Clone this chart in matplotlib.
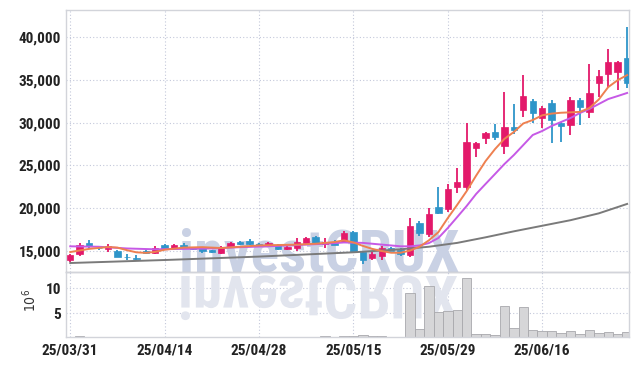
import matplotlib
matplotlib.use("Agg")
import matplotlib.pyplot as plt
import numpy as np
from matplotlib.textpath import TextPath
from matplotlib.patches import PathPatch
from matplotlib.transforms import Affine2D, IdentityTransform
from matplotlib.font_manager import FontProperties

plt.rcParams["font.family"] = ["Roboto Condensed", "Liberation Sans Narrow", "DejaVu Sans"]
plt.rcParams["font.stretch"] = "condensed"

# daily candles, 2025/03/31 .. 2025/06/27 (trading days)
opens = [13950, 14650, 15900, 15400, 15230, 15000, 14350, 14200, 15050, 14770,
         15700, 15350, 15700, 15350, 15350, 15100, 14770, 15470, 16050, 16170,
         15820, 15700, 15700, 15230, 15350, 15930, 16640, 15820, 15930, 16100,
         17220, 14880, 14180, 14420, 15350, 15100, 14530, 18270, 16990, 20140,
         19900, 22470, 22470, 27030, 28200, 28900, 27260, 29490, 31470, 32520,
         30530, 32290, 29950, 29720, 32640, 31240, 34620, 35670, 35900, 37540]
highs = [14650, 15930, 16250, 15600, 15800, 15100, 14650, 14500, 15150, 15550,
         15800, 15800, 15930, 15450, 15400, 15150, 15550, 16050, 16150, 16400,
         15900, 16000, 15800, 15600, 16520, 16640, 16700, 16500, 16300, 17300,
         17300, 14950, 14900, 15550, 15500, 15350, 18850, 18500, 20020, 22470,
         22830, 24690, 29950, 27750, 28900, 29830, 33580, 32170, 35560, 32800,
         31900, 32640, 30100, 32990, 32900, 36840, 36140, 38600, 37200, 41160]
lows = [13700, 14420, 15250, 15100, 14900, 14300, 13950, 13850, 14700, 14650,
        15100, 15300, 15230, 15100, 14770, 14770, 14700, 15400, 15700, 15750,
        15450, 15600, 15100, 15150, 15000, 15850, 15850, 15350, 15650, 16000,
        14800, 13480, 13900, 13950, 14950, 14420, 14300, 16750, 16640, 19320,
        19550, 21770, 22120, 25980, 27500, 27960, 26330, 28670, 30650, 29950,
        29370, 27610, 27730, 28550, 29720, 30530, 32990, 34150, 33810, 34040]
closes = [14530, 15700, 15600, 15300, 15580, 14300, 14250, 14100, 14800, 15350,
          15230, 15700, 15350, 15230, 15000, 14900, 15470, 15930, 15820, 15820,
          15580, 15900, 15230, 15450, 16050, 16520, 15930, 16050, 15700, 17100,
          14880, 13950, 14650, 15350, 15000, 14650, 17920, 17100, 19320, 19440,
          22240, 23050, 27730, 27620, 28780, 28320, 29490, 29130, 33100, 31120,
          31700, 30300, 29600, 32640, 31820, 33460, 35440, 37080, 37080, 34620]
# volume, millions of shares
volumes = [0.2, 0.35, 0.2, 0.2, 0.2, 0.2, 0.2, 0.2, 0.2, 0.2,
           0.2, 0.2, 0.2, 0.2, 0.2, 0.2, 0.2, 0.2, 0.2, 0.2,
           0.2, 0.2, 0.2, 0.2, 0.2, 0.2, 0.2, 0.45, 0.2, 0.45,
           0.45, 0.6, 0.45, 0.45, 0.2, 0.2, 9.0, 1.8, 10.5, 5.3,
           5.4, 5.7, 12.1, 0.9, 0.9, 0.6, 6.5, 2.0, 6.2, 1.7,
           1.4, 1.4, 1.1, 1.4, 0.9, 1.7, 1.1, 1.3, 0.8, 1.3]

# moving averages (candle index, price)
ma_short_idx = [0, 2, 4, 5, 6, 7, 8, 9, 10, 12, 14, 16, 18, 20, 22, 24, 26, 27, 28, 29,
                30, 31, 32, 33, 34, 35, 36, 37, 38, 39, 40, 41, 42, 43, 44, 45, 46, 47,
                48, 49, 50, 51, 52, 53, 54, 55, 56, 57, 58, 59]
ma_short = [14880, 15250, 15470, 15400, 15100, 14850, 14780, 14900, 15150, 15400,
            15450, 15350, 15500, 15650, 15700, 15750, 15850, 15950, 16050, 16250,
            16000, 15600, 15250, 15000, 14800, 14800, 15050, 15500, 16250, 17200,
            18850, 20400, 22000, 23800, 25500, 26900, 28100, 28900, 29900, 30300,
            30850, 31050, 31150, 31200, 31250, 31700, 32700, 34150, 34950, 35550]
ma_mid_idx = [0, 3, 6, 9, 12, 15, 18, 21, 24, 27, 29, 31, 33, 35, 36, 37, 38, 39, 40,
              41, 42, 43, 44, 45, 46, 47, 48, 49, 50, 51, 52, 53, 54, 55, 56, 57, 58, 59]
ma_mid = [15550, 15500, 15300, 15200, 15250, 15300, 15450, 15550, 15700, 15850,
          16000, 15950, 15750, 15550, 15550, 15650, 15930, 16520, 17690, 18970,
          20260, 21660, 22830, 23990, 25160, 26210, 27380, 28550, 29020, 29600,
          30070, 30530, 31120, 31590, 32170, 32750, 33100, 33460]
ma_long_idx = [0, 10, 20, 30, 35, 38, 41, 44, 47, 50, 53, 56, 59]
ma_long = [13600, 13950, 14350, 14850, 15200, 15500, 15950, 16600, 17300, 17950,
           18600, 19400, 20500]

tick_idx = [0, 10, 20, 30, 40, 50]
tick_labels = ["25/03/31", "25/04/14", "25/04/28", "25/05/15", "25/05/29", "25/06/16"]
price_ticks = [15000, 20000, 25000, 30000, 35000, 40000]
vol_ticks = [5, 10]

UP = "#E3196A"
DOWN = "#2E95C9"
GRID = "#C3C8DA"
SPINE = "#D2D4DA"

W, H = 639, 366
fig = plt.figure(figsize=(W / 100, H / 100), dpi=100, facecolor="white")
left, right = 66, 629
ax = fig.add_axes([left / W, 1 - 272 / H, (right - left) / W, (272 - 10) / H])
vax = fig.add_axes([left / W, 1 - 337 / H, (right - left) / W, (337 - 272) / H], sharex=ax)

x = np.arange(len(opens))
o, h, l, c = map(np.array, (opens, highs, lows, closes))
colors = [UP if cc >= oo else DOWN for oo, cc in zip(o, c)]

ax.vlines(x, l, h, colors=colors, linewidth=1.3, zorder=3)
body = np.maximum(np.abs(c - o), 60)
ax.bar(x, body, bottom=np.minimum(o, c), width=0.68, color=colors,
       edgecolor=colors, linewidth=0.5, zorder=4)

ax.plot(ma_long_idx, ma_long, color="#7A7A7A", linewidth=1.4, zorder=5)
ax.plot(ma_mid_idx, ma_mid, color="#C659E6", linewidth=1.4, zorder=5)
ax.plot(ma_short_idx, ma_short, color="#EE8050", linewidth=1.4, zorder=5)

vax.bar(x, volumes, width=1.0, color="#D6D6D8", edgecolor="#A8A8AC",
        linewidth=0.6, zorder=2)

ax.set_xlim(-0.45, 59.2)
ax.set_ylim(12550, 43150)
vax.set_ylim(0.25, 13.2)

for a in (ax, vax):
    a.grid(True, linestyle=(0, (1, 2)), color=GRID, linewidth=0.8, zorder=0)
    a.set_axisbelow(True)
    a.tick_params(length=0, labelsize=11, colors="#222222")
    for s in a.spines.values():
        s.set_color(SPINE)
        s.set_linewidth(1.0)

ax.set_yticks(price_ticks)
ax.set_yticklabels([f"{v:,}" for v in price_ticks], fontweight="bold")
ax.set_xticks(tick_idx)
ax.tick_params(axis="x", labelbottom=False)
vax.set_yticks(vol_ticks)
vax.set_yticklabels([str(v) for v in vol_ticks], fontweight="bold")
vax.set_xticklabels(tick_labels, fontweight="bold")
vax.tick_params(axis="x", pad=5)
ax.spines["bottom"].set_color("#C4C4C8")
vax.patch.set_alpha(0)

fig.text(30 / W, 1 - 300 / H, "$10^6$", rotation=90, ha="center", va="center",
         fontsize=10, color="#333333")

# watermark and its reflection
wm_font = FontProperties(family=["Roboto Condensed", "Liberation Sans Narrow", "DejaVu Sans"],
                         weight="bold", stretch="condensed", size=43)
cx, base = 319, H - 272
ax.text(cx / W, base / H, "investCRUX", transform=fig.transFigure, ha="center",
        va="baseline", fontproperties=wm_font, color="#C9D1E4",
        zorder=1, clip_on=False)
tp = TextPath((0, 0), "investCRUX", size=43 * 100 / 72, prop=wm_font)
ext = tp.get_extents()
tr = Affine2D().scale(1, -1).translate(cx - (ext.x0 + ext.x1) / 2, base - 4)
vax.add_patch(PathPatch(tr.transform_path(tp), transform=IdentityTransform(),
                        facecolor="#E2E5EE", edgecolor="none", zorder=1, clip_on=False))

fig.savefig("out.png", dpi=100, facecolor="white")
